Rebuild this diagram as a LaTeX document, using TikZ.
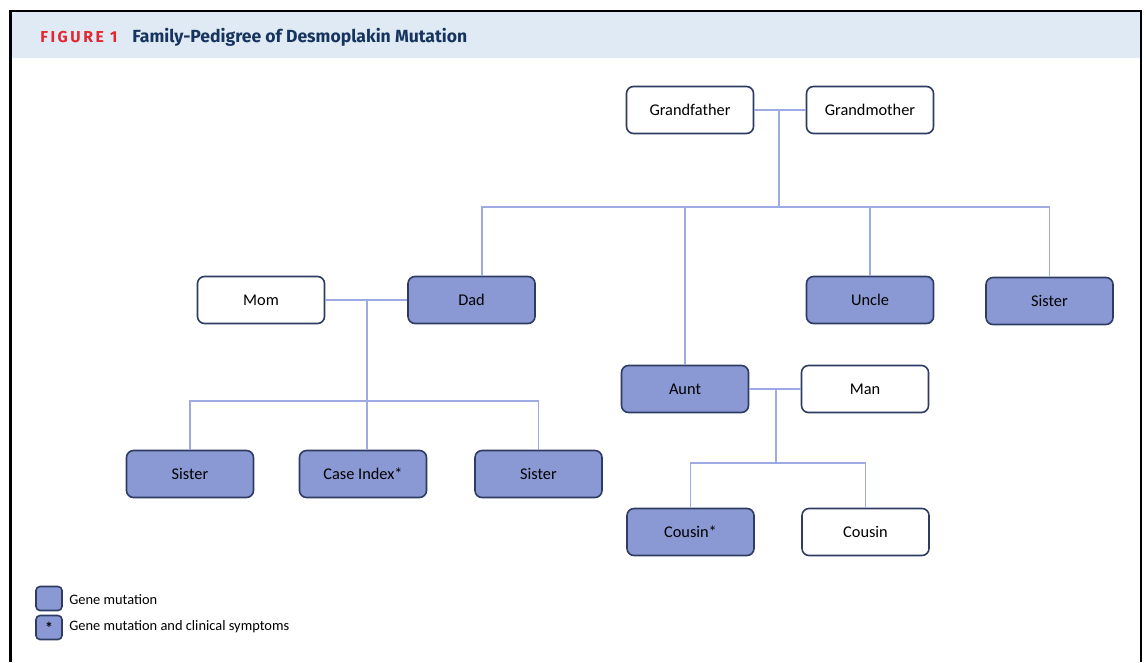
\documentclass[tikz,border=0pt]{standalone}
\usepackage{fontspec}
\setmainfont{Carlito}
\newfontfamily\headfont{Fira Sans}
\newfontfamily\figfont[LetterSpace=16]{Fira Sans}
\usepackage{xcolor}
\usepackage{tikz}
\definecolor{PedFill}{HTML}{8A98D4}
\definecolor{PedEdge}{HTML}{2E3B62}
\definecolor{PedLine}{HTML}{9EAAE4}
\definecolor{PedHead}{HTML}{DFEAF5}
\definecolor{PedNavy}{HTML}{16345E}
\definecolor{PedRed}{HTML}{E3262F}

\begin{document}
\begin{tikzpicture}[x=1cm,y=1cm,
  person/.style={draw=PedEdge,line width=0.9pt,rounded corners=0.14cm,
    minimum width=2.54cm,minimum height=0.94cm,fill=white,
    font=\fontsize{9.3}{11}\selectfont},
  carrier/.style={person,fill=PedFill},
  keybox/.style={carrier,minimum width=0.52cm,minimum height=0.48cm,
    rounded corners=0.08cm,inner sep=0pt},
  keytext/.style={anchor=west,inner sep=0pt,font=\fontsize{8.2}{10}\selectfont},
  link/.style={PedLine,line width=0.9pt}]
\path[use as bounding box] (0,0) rectangle (22.92,13.24);
% frame and header
\fill[PedHead] (0.22,12.08) rectangle (22.81,13.00);
\draw[black,line width=1.4pt] (0.21,0) -- (0.21,13.02) -- (22.82,13.02) -- (22.82,0);
\node[anchor=base west,inner sep=0pt,text=PedRed,font=\figfont\bfseries\fontsize{9}{11}\selectfont] (figno) at (0.80,12.39) {FIGURE 1};
\node[anchor=base west,inner sep=0pt,text=PedNavy,font=\headfont\bfseries\fontsize{10}{12}\selectfont] (title) at (2.64,12.39) {Family-Pedigree of Desmoplakin Mutation};
% grandparents
\node[person] (gfather) at (13.80,11.04) {Grandfather};
\node[person] (gmother) at (17.40,11.04) {Grandmother};
% second generation
\node[person] (mom) at (5.22,7.24) {Mom};
\node[carrier] (dad) at (9.43,7.24) {Dad};
\node[carrier] (uncle) at (17.40,7.24) {Uncle};
\node[carrier] (sisR) at (20.99,7.22) {Sister};
\node[carrier] (aunt) at (13.70,5.46) {Aunt};
\node[person] (man) at (17.30,5.46) {Man};
% third generation
\node[carrier] (sisA) at (3.80,3.76) {Sister};
\node[carrier] (index) at (7.26,3.76) {Case Index*};
\node[carrier] (sisB) at (10.77,3.76) {Sister};
\node[carrier] (cousinA) at (13.81,2.60) {Cousin*};
\node[person] (cousinB) at (17.31,2.60) {Cousin};
% connectors
\coordinate (gpmid) at (15.58,11.04);
\coordinate (gpbar) at (15.58,9.10);
\coordinate (pmid) at (7.34,7.24);
\coordinate (pbar) at (7.34,5.22);
\coordinate (amid) at (15.52,5.46);
\coordinate (abar) at (15.52,3.98);
\draw[link] (gfather) -- (gmother);
\draw[link] (gpmid) -- (gpbar);
\draw[link] ([xshift=0.21cm]dad.north) |- (gpbar) -| (sisR.north);
\draw[link] (aunt.north) -- (aunt.north |- gpbar);
\draw[link] (uncle.north) -- (uncle.north |- gpbar);
\draw[link] (mom) -- (dad);
\draw[link] (pmid) -- (pmid |- index.north);
\draw[link] (sisA.north) |- (pbar) -| (sisB.north);
\draw[link] (aunt) -- (man);
\draw[link] (amid) -- (abar);
\draw[link] (cousinA.north) |- (abar) -| (cousinB.north);
% legend
\node[keybox] (keyA) at (0.98,1.27) {};
\node[keybox] (keyB) at (0.98,0.69) {\bfseries\fontsize{9}{10}\selectfont *};
\node[keytext] (keyAtext) at (1.38,1.25) {Gene mutation};
\node[keytext] (keyBtext) at (1.38,0.70) {Gene mutation and clinical symptoms};
\end{tikzpicture}
\end{document}
